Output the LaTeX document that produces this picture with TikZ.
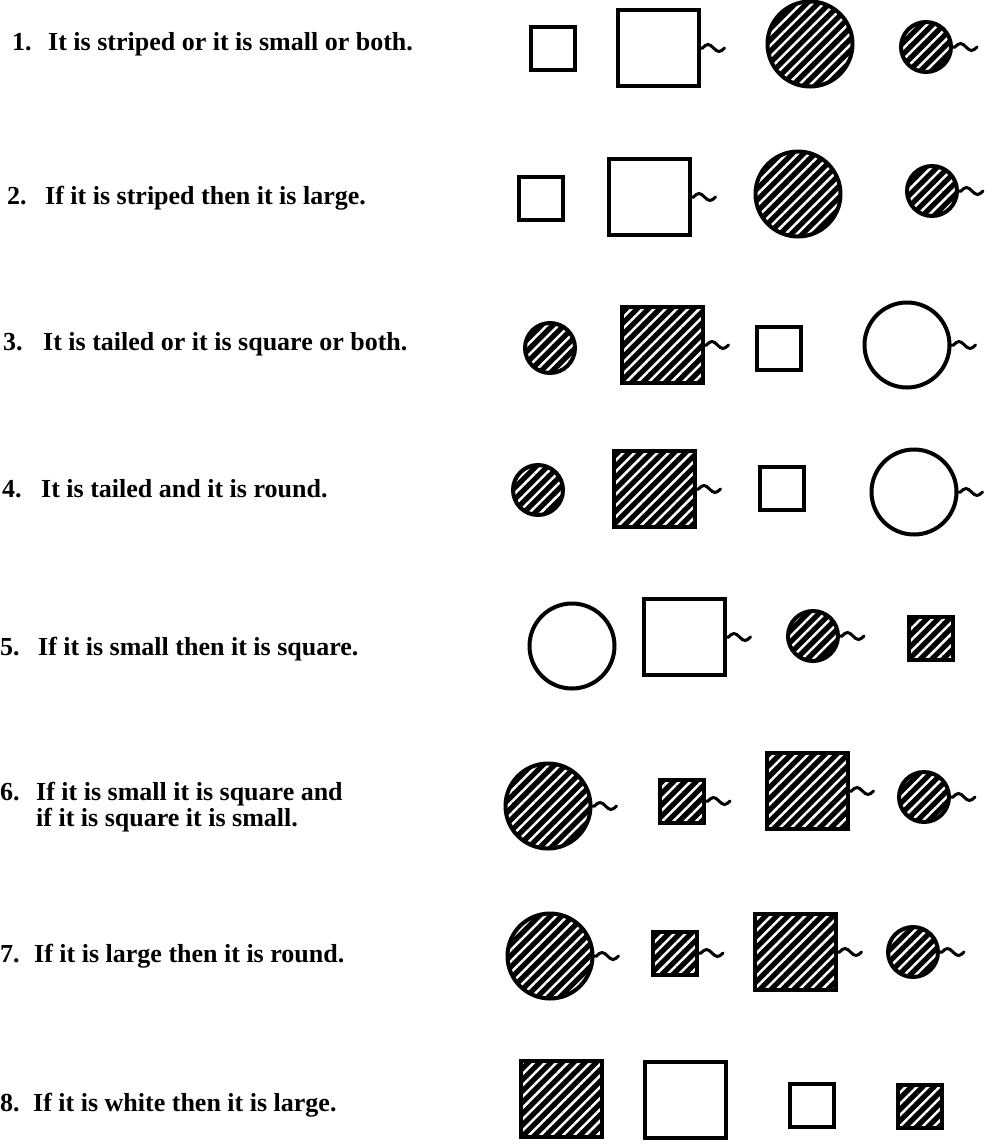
\documentclass[tikz,border=0pt]{standalone}
\usepackage{fontspec}
\setmainfont{Liberation Serif}
\usetikzlibrary{patterns.meta}
\tikzset{
  fig/.style={draw, line width=4pt, inner sep=0pt, outer sep=0pt},
  smallsq/.style={fig, rectangle, minimum width=44pt, minimum height=43pt},
  bigsq/.style={fig, rectangle, minimum width=81pt, minimum height=76pt},
  smallcirc/.style={fig, circle, minimum size=50pt},
  bigcirc/.style={fig, circle, minimum size=85pt},
  striped/.style={preaction={fill=black}, pattern={Lines[angle=45,distance=8pt,line width=2.5pt]}, pattern color=white},
  tailline/.style={line width=3pt, line cap=round},
  stmt/.style={anchor=base west, inner sep=0pt, font=\bfseries\fontsize{26}{30}\selectfont}
}
\newcommand{\tail}[1]{\draw[tailline] (#1.east) -- ++(4,0) sin ++(5.5,-3.5) cos ++(5.5,3.5) sin ++(5.5,3.5) cos ++(5.5,-3.5);}

\begin{document}
\begin{tikzpicture}[x=1pt,y=-1pt]
        \useasboundingbox (0,0) rectangle (986,1144);
        % 1
        \node[stmt] (n1) at (12,50) {1.};
        \node[stmt] (t1) at (48,50) {It is striped or it is small or both.};
        \node[smallsq] (a1) at (553,48) {};
        \node[bigsq] (b1) at (658,48) {};
        \node[bigcirc,striped] (c1) at (810,44) {};
        \node[smallcirc,striped] (d1) at (926,47) {};
        \tail{b1} \tail{d1}
        % 2
        \node[stmt] (n2) at (7,204) {2.};
        \node[stmt] (t2) at (45,204) {If it is striped then it is large.};
        \node[smallsq] (a2) at (541,198) {};
        \node[bigsq] (b2) at (649,197) {};
        \node[bigcirc,striped] (c2) at (798,194) {};
        \node[smallcirc,striped] (d2) at (932,191) {};
        \tail{b2} \tail{d2}
        % 3
        \node[stmt] (n3) at (3,350) {3.};
        \node[stmt] (t3) at (43,350) {It is tailed or it is square or both.};
        \node[smallcirc,striped] (a3) at (550,348) {};
        \node[bigsq,striped] (b3) at (662,345) {};
        \node[smallsq] (c3) at (779,348) {};
        \node[bigcirc] (d3) at (907,345) {};
        \tail{b3} \tail{d3}
        % 4
        \node[stmt] (n4) at (2,497) {4.};
        \node[stmt] (t4) at (41,497) {It is tailed and it is round.};
        \node[smallcirc,striped] (a4) at (538,490) {};
        \node[bigsq,striped] (b4) at (654,489) {};
        \node[smallsq] (c4) at (782,488) {};
        \node[bigcirc] (d4) at (914,492) {};
        \tail{b4} \tail{d4}
        % 5
        \node[stmt] (n5) at (0,655) {5.};
        \node[stmt] (t5) at (38,655) {If it is small then it is square.};
        \node[bigcirc] (a5) at (572,646) {};
        \node[bigsq] (b5) at (684,637) {};
        \node[smallcirc,striped] (c5) at (813,636) {};
        \node[smallsq,striped] (d5) at (931,638) {};
        \tail{b5} \tail{c5}
        % 6
        \node[stmt] (n6) at (0,800) {6.};
        \node[stmt] (t6) at (36,800) {If it is small it is square and};
        \node[stmt] (t6b) at (36,826) {if it is square it is small.};
        \node[bigcirc,striped] (a6) at (548,806) {};
        \node[smallsq,striped] (b6) at (682,801) {};
        \node[bigsq,striped] (c6) at (807,791) {};
        \node[smallcirc,striped] (d6) at (924,797) {};
        \tail{a6} \tail{b6} \tail{c6} \tail{d6}
        % 7
        \node[stmt] (n7) at (0,962) {7.};
        \node[stmt] (t7) at (34,962) {If it is large then it is round.};
        \node[bigcirc,striped] (a7) at (550,956) {};
        \node[smallsq,striped] (b7) at (675,953) {};
        \node[bigsq,striped] (c7) at (795,952) {};
        \node[smallcirc,striped] (d7) at (913,952) {};
        \tail{a7} \tail{b7} \tail{c7} \tail{d7}
        % 8
        \node[stmt] (n8) at (0,1111) {8.};
        \node[stmt] (t8) at (33,1111) {If it is white then it is large.};
        \node[bigsq,striped] (a8) at (561,1099) {};
        \node[bigsq] (b8) at (685,1100) {};
        \node[smallsq] (c8) at (812,1105) {};
        \node[smallsq,striped] (d8) at (920,1106) {};
      \end{tikzpicture}
\end{document}
